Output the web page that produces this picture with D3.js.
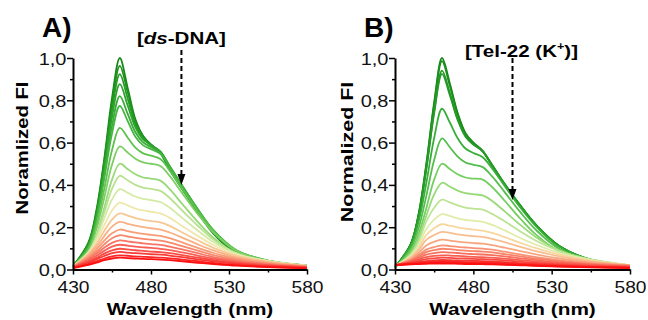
<!DOCTYPE html>
<html><head><meta charset="utf-8">
<script src="https://cdn.jsdelivr.net/npm/d3@7"></script>
<style>body{margin:0;background:#fff}svg{display:block}</style>
</head><body>
<svg id="chart" width="648" height="320"></svg>
<script>
// ---------- data ----------
const wavelengths = [430, 440, 445, 450, 455, 460, 465, 470, 475, 480, 486, 492, 500, 510, 520, 535, 555, 580];
const xMajorTicks = [430, 480, 530, 580];
const xMinorTicks = [455, 505, 555];
const yMajorTicks = [0, 0.2, 0.4, 0.6, 0.8, 1.0];
const yMinorTicks = [0.1, 0.3, 0.5, 0.7, 0.9];

// Panel A: ds-DNA titration (top = free dye, bottom = last addition)
const spectraA = [
  [.015, .13, .28, .52, .81, 1.0, .86, .71, .63, .59, .55, .47, .38, .27, .17, .075, .035, .017],
  [.015, .125, .27, .51, .78, .963, .84, .70, .63, .59, .555, .48, .39, .275, .175, .079, .037, .017],
  [.016, .12, .26, .49, .755, .924, .81, .687, .622, .59, .556, .482, .391, .279, .178, .082, .038, .018],
  [.016, .115, .25, .471, .72, .876, .777, .672, .615, .588, .558, .488, .396, .284, .183, .086, .04, .018],
  [.016, .11, .24, .448, .678, .82, .737, .649, .601, .579, .554, .488, .396, .285, .185, .088, .041, .019],
  [.016, .105, .23, .427, .643, .773, .703, .628, .587, .569, .547, .485, .394, .284, .186, .09, .042, .019],
  [.016, .098, .21, .38, .564, .67, .624, .576, .549, .538, .522, .468, .382, .276, .183, .09, .042, .018],
  [.015, .09, .19, .338, .495, .582, .553, .524, .506, .5, .489, .442, .361, .262, .175, .087, .041, .017],
  [.015, .075, .16, .29, .425, .50, .475, .45, .435, .43, .42, .38, .31, .225, .15, .075, .035, .015],
  [.014, .081, .157, .268, .381, .443, .422, .40, .387, .381, .372, .338, .279, .207, .142, .076, .039, .017],
  [.014, .083, .148, .241, .331, .38, .363, .345, .334, .328, .319, .292, .244, .184, .13, .074, .04, .018],
  [.014, .08, .135, .209, .279, .316, .303, .288, .279, .273, .265, .244, .206, .159, .116, .07, .039, .018],
  [.013, .075, .121, .182, .236, .265, .255, .243, .235, .229, .223, .206, .175, .138, .102, .064, .037, .017],
  [.013, .069, .108, .158, .203, .225, .216, .207, .2, .195, .189, .175, .151, .119, .09, .057, .034, .016],
  [.012, .061, .095, .136, .171, .189, .182, .174, .168, .164, .159, .148, .128, .102, .078, .051, .03, .015],
  [.012, .055, .084, .119, .148, .162, .156, .15, .145, .141, .136, .127, .11, .089, .068, .045, .027, .013],
  [.011, .049, .074, .103, .126, .138, .133, .128, .124, .12, .116, .108, .095, .077, .059, .04, .024, .012],
  [.01, .043, .064, .088, .108, .117, .113, .108, .105, .102, .098, .092, .081, .066, .051, .035, .021, .011],
  [.01, .038, .055, .075, .09, .098, .095, .091, .088, .085, .082, .077, .068, .056, .044, .03, .019, .01],
  [.009, .033, .048, .064, .077, .083, .08, .077, .075, .072, .07, .066, .058, .048, .038, .026, .016, .008],
  [.008, .027, .039, .052, .062, .067, .065, .062, .06, .058, .056, .053, .047, .039, .031, .021, .013, .007],
  [.007, .022, .032, .044, .052, .056, .054, .052, .05, .049, .047, .044, .039, .032, .026, .018, .011, .006]
];

// Panel B: Tel-22 (K+) titration
const spectraB = [
  [.01, .12, .26, .50, .79, 1.0, .88, .74, .645, .60, .56, .49, .40, .30, .21, .11, .045, .018],
  [.01, .118, .256, .493, .778, .985, .869, .734, .642, .599, .56, .492, .402, .30, .211, .11, .045, .018],
  [.01, .118, .252, .479, .749, .94, .835, .713, .632, .593, .559, .494, .404, .303, .211, .11, .046, .018],
  [.011, .118, .251, .474, .739, .925, .824, .707, .628, .591, .559, .494, .405, .302, .211, .11, .046, .018],
  [.011, .109, .223, .409, .622, .76, .695, .621, .572, .551, .531, .478, .395, .293, .204, .106, .047, .018],
  [.011, .098, .194, .348, .518, .62, .578, .534, .506, .495, .484, .44, .366, .271, .187, .097, .045, .017],
  [.01, .085, .165, .29, .425, .5, .475, .45, .435, .43, .425, .39, .325, .24, .165, .085, .04, .015],
  [.012, .075, .145, .255, .355, .41, .392, .373, .361, .356, .35, .324, .275, .211, .153, .09, .048, .02],
  [.014, .07, .13, .227, .292, .33, .317, .303, .293, .288, .283, .263, .228, .18, .136, .087, .045, .02],
  [.015, .065, .115, .191, .236, .262, .253, .242, .234, .231, .225, .211, .185, .149, .117, .079, .045, .02],
  [.016, .06, .10, .163, .195, .214, .207, .199, .193, .189, .184, .173, .153, .126, .101, .07, .042, .02],
  [.017, .055, .09, .14, .163, .178, .173, .166, .161, .158, .154, .145, .129, .107, .087, .062, .038, .02],
  [.018, .05, .078, .114, .131, .141, .137, .132, .128, .125, .122, .115, .103, .087, .071, .052, .033, .019],
  [.018, .045, .068, .094, .106, .114, .111, .107, .104, .101, .099, .094, .084, .071, .058, .043, .028, .018],
  [.019, .042, .062, .082, .092, .098, .096, .092, .089, .087, .085, .081, .073, .062, .051, .038, .026, .017],
  [.019, .04, .055, .07, .077, .082, .08, .078, .075, .073, .071, .068, .062, .053, .044, .034, .023, .015],
  [.02, .036, .048, .058, .064, .067, .066, .064, .062, .06, .058, .056, .051, .044, .037, .029, .02, .013],
  [.02, .033, .041, .049, .053, .056, .055, .053, .052, .05, .049, .047, .043, .037, .031, .024, .017, .012],
  [.02, .03, .035, .04, .043, .045, .044, .043, .042, .041, .04, .038, .035, .03, .026, .02, .014, .01],
  [.021, .028, .032, .035, .037, .038, .037, .036, .035, .035, .034, .032, .03, .026, .022, .017, .012, .009],
  [.02, .025, .028, .03, .031, .032, .031, .031, .03, .029, .028, .027, .025, .022, .019, .015, .011, .008],
  [.022, .024, .026, .027, .028, .028, .028, .027, .026, .026, .025, .024, .022, .02, .017, .014, .01, .007]
];

// ---------- styles ----------
const coloursA = ['#178817','#1e921e','#259a25','#2ca22c','#38ac36','#46b642','#5ec24e','#7cce64','#98d97a','#b8e290','#d4eaa4','#eee8ac','#f8c894','#f8b084','#f89c78','#f8886c','#f87464','#f86054','#f84c44','#f83a36','#fa2626','#ff1010'];
const coloursB = ['#178817','#1c8e1c','#229622','#269a26','#38ae38','#54be4c','#74ce60','#98da78','#bce494','#e0eca8','#f8d6a0','#f8be90','#f8a680','#f89274','#f88268','#f86e5c','#f85e50','#f84a42','#f83834','#fa2826','#fc1a1a','#ff1010'];
const FONT = '"Liberation Sans", Arial, sans-serif';

const svg = d3.select('#chart');

function stretched(parent, x, y, sx, rot) {
  return parent.append('text')
    .attr('transform', `translate(${x},${y})` + (rot ? ` rotate(${rot})` : '') + ` scale(${sx},1)`)
    .attr('font-family', FONT);
}

function panel(cfg) {
  const x = d3.scaleLinear().domain([430, 580]).range([cfg.x0, cfg.x1]);
  const y = d3.scaleLinear().domain([0, 1]).range([269.5, 58]);
  const g = svg.append('g');

  // spectra
  const line = d3.line().x((d, i) => x(wavelengths[i])).y(d => y(d)).curve(d3.curveCatmullRom.alpha(0.5));
  g.append('g').selectAll('path').data(cfg.data).join('path')
    .attr('d', d => line(d))
    .attr('fill', 'none')
    .attr('stroke', (d, i) => cfg.colours[i])
    .attr('stroke-width', 1.8)
    .attr('stroke-linejoin', 'round');

  // axes
  const fmt = d => d3.format('.1f')(d).replace('.', ',');
  const xa = g.append('g').attr('transform', `translate(0,${y(0)})`)
    .call(d3.axisBottom(x).tickValues(xMajorTicks).tickSize(5).tickSizeOuter(0).tickFormat(d3.format('d')));
  g.append('g').attr('transform', `translate(0,${y(0)})`)
    .call(d3.axisBottom(x).tickValues(xMinorTicks).tickSize(3).tickSizeOuter(0).tickFormat(''))
    .select('.domain').remove();
  const ya = g.append('g').attr('transform', `translate(${x(430)},0)`)
    .call(d3.axisLeft(y).tickValues(yMajorTicks).tickSize(6).tickSizeOuter(0).tickFormat(fmt));
  g.append('g').attr('transform', `translate(${x(430)},0)`)
    .call(d3.axisLeft(y).tickValues(yMinorTicks).tickSize(3).tickSizeOuter(0).tickFormat(''))
    .select('.domain').remove();
  g.selectAll('.domain').attr('stroke', '#000').attr('stroke-width', 2);
  g.selectAll('.tick line').attr('stroke', '#000').attr('stroke-width', 1.5);

  xa.selectAll('text').attr('font-family', FONT).attr('font-size', 16).attr('fill', '#111')
    .attr('y', 0).attr('dy', 0).attr('transform', 'translate(0,23) scale(1.2,1)');
  ya.selectAll('text').attr('font-family', FONT).attr('font-size', 16).attr('fill', '#111')
    .attr('x', 0).attr('dy', 0).attr('transform', 'translate(-6.5,6) scale(1.25,1)');

  // axis titles
  stretched(g, (cfg.x0 + cfg.x1) / 2, 314.5, 1.26)
    .attr('text-anchor', 'middle').attr('font-size', 16.5).attr('font-weight', 'bold')
    .text('Wavelength (nm)');
  stretched(g, cfg.yLabelX, cfg.yLabelY, cfg.yLabelScale, -90)
    .attr('text-anchor', 'middle').attr('font-size', 16.5).attr('font-weight', 'bold')
    .text(cfg.yLabel);

  // panel letter
  g.append('text').attr('x', cfg.letterX).attr('y', 37)
    .attr('font-family', FONT).attr('font-size', 28).attr('font-weight', 'bold')
    .text(cfg.letter);

  // annotation + dashed arrow
  const ax = x(cfg.arrowW);
  cfg.annotate(stretched(g, ax + cfg.labelDx, cfg.labelY, 1.26)
    .attr('text-anchor', 'middle').attr('font-size', 16.3).attr('font-weight', 'bold'));
  g.append('line').attr('x1', ax).attr('x2', ax).attr('y1', cfg.arrowTop).attr('y2', cfg.arrowTip - 8)
    .attr('stroke', '#000').attr('stroke-width', 2).attr('stroke-dasharray', '5,3');
  g.append('path')
    .attr('d', `M${ax - 4},${cfg.arrowTip - 11} L${ax + 4},${cfg.arrowTip - 11} L${ax},${cfg.arrowTip} Z`)
    .attr('fill', '#000');
}

panel({
  data: spectraA, colours: coloursA, x0: 73, x1: 307,
  yLabel: 'Noramlized FI', yLabelX: 28, yLabelY: 148, yLabelScale: 1.23,
  letter: 'A)', letterX: 42,
  arrowW: 499.5, arrowTop: 50, arrowTip: 185, labelY: 43.5, labelDx: 0,
  annotate: t => {
    t.append('tspan').text('[');
    t.append('tspan').attr('font-style', 'italic').text('ds');
    t.append('tspan').text('-DNA]');
  }
});

panel({
  data: spectraB, colours: coloursB, x0: 395, x1: 630,
  yLabel: 'Normalized FI', yLabelX: 353, yLabelY: 152, yLabelScale: 1.3,
  letter: 'B)', letterX: 364,
  arrowW: 505, arrowTop: 58, arrowTip: 200, labelY: 56.5, labelDx: 9,
  annotate: t => {
    t.append('tspan').text('[Tel-22 (K');
    t.append('tspan').attr('font-size', 10).attr('dy', -7).text('+');
    t.append('tspan').attr('dy', 7).text(')]');
  }
});
</script>
</body></html>
